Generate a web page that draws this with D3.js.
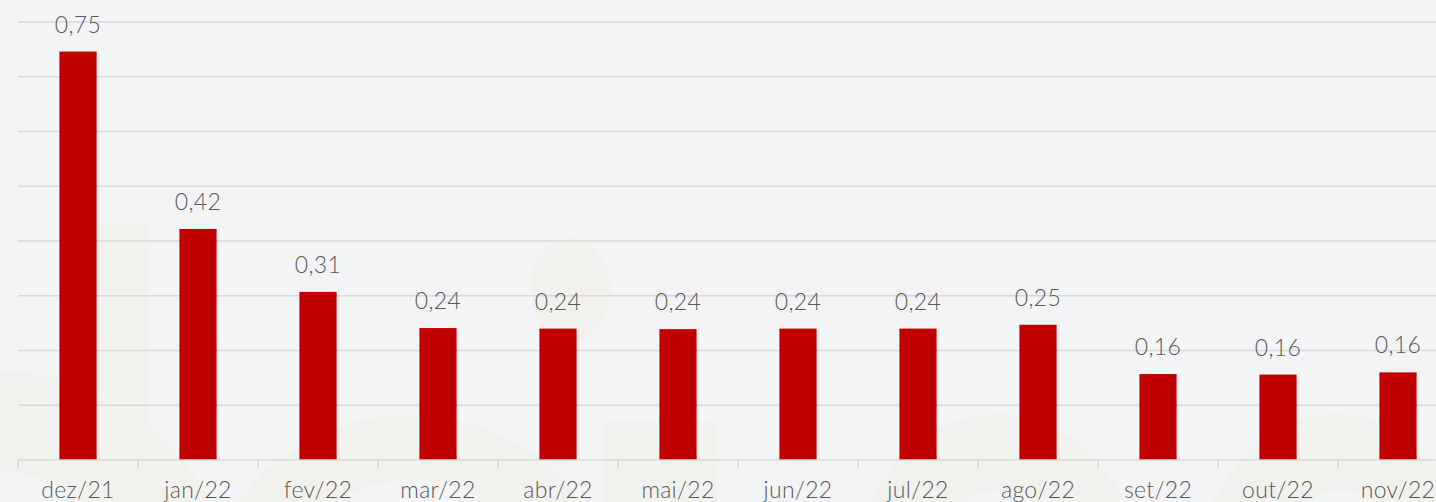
<!DOCTYPE html>
<html>
<head>
<meta charset="utf-8">
<script src="https://cdn.jsdelivr.net/npm/d3@7"></script>
<style>
  html, body { margin: 0; padding: 0; background: #f3f4f6; overflow: hidden; }
  svg { display: block; }
  .chart-label { font-family: Lato, "Open Sans", sans-serif; font-weight: 300; fill: #595959; letter-spacing: 0.3px; }
</style>
</head>
<body>
<div id="chart"></div>
<script>
// Monthly rate (%), dez/21 - nov/22
var categories = ["dez/21", "jan/22", "fev/22", "mar/22", "abr/22", "mai/22",
                  "jun/22", "jul/22", "ago/22", "set/22", "out/22", "nov/22"];
var values = [0.746, 0.422, 0.307, 0.241, 0.240, 0.239,
              0.240, 0.240, 0.247, 0.157, 0.156, 0.160];
var gridTicks = [0.1, 0.2, 0.3, 0.4, 0.5, 0.6, 0.7, 0.8];

var width = 1436, height = 502;
var margin = { top: 22, left: 18, bottom: 42 };
var step = 120;

var svg = d3.select("#chart").append("svg")
    .attr("width", width)
    .attr("height", height);

// faint logo watermark in the background
var wm = svg.append("g").attr("fill", "#f1f1ed");
wm.append("rect").attr("x", 100).attr("y", 225).attr("width", 50).attr("height", 290);
wm.append("ellipse").attr("cx", 570).attr("cy", 290).attr("rx", 40).attr("ry", 52);
wm.append("rect").attr("x", 603).attr("y", 422).attr("width", 115).attr("height", 100);
wm.append("path").attr("fill-rule", "evenodd")
    .attr("d", "M-260,620 a250,250 0 1,0 500,0 a250,250 0 1,0 -500,0 Z M-160,620 a150,150 0 1,0 300,0 a150,150 0 1,0 -300,0 Z");
wm.append("path").attr("fill-rule", "evenodd")
    .attr("d", "M200,620 a210,205 0 1,0 420,0 a210,205 0 1,0 -420,0 Z M270,620 a140,140 0 1,0 280,0 a140,140 0 1,0 -280,0 Z");
wm.append("path").attr("fill-rule", "evenodd")
    .attr("d", "M842,620 a156,206 0 1,0 312,0 a156,206 0 1,0 -312,0 Z M918,620 a80,130 0 1,0 160,0 a80,130 0 1,0 -160,0 Z");
wm.append("path").attr("fill-rule", "evenodd")
    .attr("d", "M1186,620 a150,206 0 1,0 300,0 a150,206 0 1,0 -300,0 Z M1260,620 a80,130 0 1,0 160,0 a80,130 0 1,0 -160,0 Z");

var x = d3.scaleBand()
    .domain(categories)
    .range([margin.left, margin.left + step * categories.length])
    .paddingInner(0.69)
    .paddingOuter(0.345);

var y = d3.scaleLinear()
    .domain([0, 0.8])
    .range([height - margin.bottom, margin.top]);

var fmt = d3.formatLocale({ decimal: ",", thousands: ".", grouping: [3], currency: ["R$", ""] }).format(".2f");

// Gridlines
svg.append("g")
    .selectAll("line")
    .data(gridTicks)
    .enter()
    .append("line")
    .attr("x1", margin.left)
    .attr("x2", width)
    .attr("y1", function (d) { return y(d); })
    .attr("y2", function (d) { return y(d); })
    .attr("stroke", "#d9d9d9")
    .attr("stroke-width", 1.5);

// Bars
svg.append("g")
    .selectAll("rect")
    .data(values)
    .enter()
    .append("rect")
    .attr("x", function (d, i) { return x(categories[i]); })
    .attr("y", function (d) { return y(d); })
    .attr("width", x.bandwidth())
    .attr("height", function (d) { return y(0) - y(d); })
    .attr("fill", "#c00000");

// Value labels
svg.append("g")
    .selectAll("text")
    .data(values)
    .enter()
    .append("text")
    .attr("class", "chart-label")
    .attr("x", function (d, i) { return x(categories[i]) + x.bandwidth() / 2; })
    .attr("y", function (d) { return y(d) - 19; })
    .attr("text-anchor", "middle")
    .style("font-size", "23px")
    .text(function (d) { return fmt(d); });

// X axis: baseline, boundary ticks and labels
var axis = svg.append("g");
axis.append("line")
    .attr("x1", margin.left).attr("x2", width)
    .attr("y1", y(0)).attr("y2", y(0))
    .attr("stroke", "#d9d9d9").attr("stroke-width", 1.5);
axis.selectAll(".tick")
    .data(d3.range(categories.length + 1))
    .enter()
    .append("line")
    .attr("x1", function (i) { return margin.left + i * x.step(); })
    .attr("x2", function (i) { return margin.left + i * x.step(); })
    .attr("y1", y(0))
    .attr("y2", y(0) + 9)
    .attr("stroke", "#d9d9d9").attr("stroke-width", 1.5);
axis.selectAll(".labelX")
    .data(categories)
    .enter()
    .append("text")
    .attr("class", "chart-label")
    .attr("x", function (d) { return x(d) + x.bandwidth() / 2; })
    .attr("y", 498)
    .attr("text-anchor", "middle")
    .style("font-size", "23px")
    .text(function (d) { return d; });
</script>
</body>
</html>
